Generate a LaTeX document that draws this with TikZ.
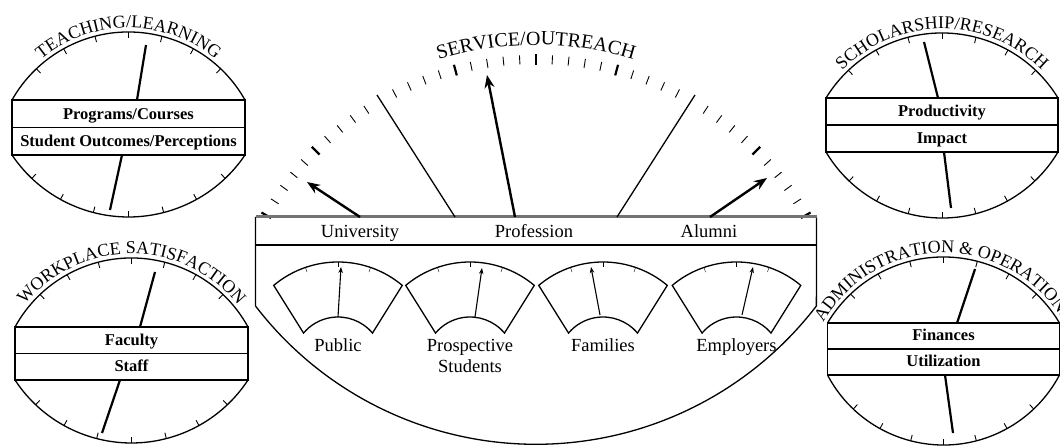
\documentclass[tikz,border=0pt]{standalone}
\usepackage{fontspec}
\setmainfont{Liberation Serif}
\usetikzlibrary{arrows.meta,decorations.text}

\newcommand{\BigCaps}{\fontsize{20}{20}\selectfont}
\newcommand{\DialCaps}{\fontsize{18}{18}\selectfont}
\newcommand{\RowFont}{\fontsize{16.5}{17}\selectfont\bfseries}
\newcommand{\TagFont}{\fontsize{18.5}{19}\selectfont}

% lens dial: #1 name, #2 centre x, #3 band top, #4 band bottom,
% #5 half width, #6 top of upper arc, #7 bottom of lower arc, #8 title
\newcommand{\Dial}[8]{
    \pgfmathsetmacro{\dTs}{#6-#3}
    \pgfmathsetmacro{\dTr}{(#5/\dTs*#5+\dTs)/2}
    \pgfmathsetmacro{\dTa}{asin(#5/\dTr)}
    \pgfmathsetmacro{\dTc}{#6-\dTr}
    \pgfmathsetmacro{\dTi}{\dTr-6}
    \pgfmathsetmacro{\dTt}{\dTr+4}
    \pgfmathsetmacro{\dBs}{#4-#7}
    \pgfmathsetmacro{\dBr}{(#5/\dBs*#5+\dBs)/2}
    \pgfmathsetmacro{\dBa}{asin(#5/\dBr)}
    \pgfmathsetmacro{\dBc}{#7+\dBr}
    \pgfmathsetmacro{\dBi}{\dBr-6}
    \pgfmathsetmacro{\dMid}{(#3+#4)/2}
    \draw[dialline] (#2+#5,#3) arc[start angle=90-\dTa, end angle=90+\dTa, radius=\dTr];
    \draw[dialline] (#2-#5,#4) arc[start angle=270-\dBa, end angle=270+\dBa, radius=\dBr];
    \foreach \k in {-3,...,3} {
        \draw[dialtick, shift={(#2,\dTc)}] (90+14.5*\k:\dTr) -- (90+14.5*\k:\dTi);
        \draw[dialtick, shift={(#2,\dBc)}] (270+14.5*\k:\dBr) -- (270+14.5*\k:\dBi);
    }
    \draw[dialline, fill=white] (#2-#5,#4) rectangle (#2+#5,#3);
    \draw[dialline] (#2-#5,\dMid) -- (#2+#5,\dMid);
    \coordinate (#1-a) at (#2,\dMid+8);
    \coordinate (#1-b) at (#2,#4+8);
    \path[shift={(#2,\dTc)}, decorate,
        decoration={text along path, text align=center, text={|\DialCaps|#8}}]
        (165:\dTt) arc[start angle=165, end angle=15, radius=\dTt];
}

% small sector meter centred on x = #1
\newcommand{\Meter}[1]{
    \draw[dialline, shift={(#1,84)}] (130:100) arc[start angle=130, end angle=50, radius=100]
        -- (40:45) arc[start angle=40, end angle=140, radius=45] -- cycle;
    \foreach \a in {71,90,109}
        \draw[thin, shift={(#1,84)}] (\a:100) -- (\a:95);
}

\begin{document}
\begin{tikzpicture}[x=1pt, y=1pt,
    dialline/.style={line width=1.3pt},
    dialtick/.style={line width=0.9pt},
    needle/.style={line width=2.2pt},
    bigarrow/.style={line width=2.4pt, -{Stealth[length=13pt, width=10pt]}},
    smallneedle/.style={line width=1.1pt, -{Stealth[length=6pt, width=4.5pt]}},
    row/.style={anchor=base, inner sep=0pt, font=\RowFont},
    tag/.style={anchor=base, inner sep=0pt, font=\TagFont, align=center}]

    \useasboundingbox (0,0) rectangle (1060,446);

    % four corner dials
    \Dial{tl}{128.5}{346}{291}{116.5}{414}{229}{TEACHING/LEARNING}
    \Dial{bl}{131.5}{119}{66}{116.5}{188}{3}{WORKPLACE SATISFACTION}
    \Dial{tr}{942}{348}{294}{116}{413}{228}{SCHOLARSHIP/RESEARCH}
    \Dial{br}{943.5}{123}{71}{116}{189}{1}{ADMINISTRATION {\&} OPERATIONS}

    \node[row] (tl1) at (tl-a) {Programs/Courses};
    \node[row] (tl2) at (tl-b) {Student Outcomes/Perceptions};
    \node[row] (bl1) at (bl-a) {Faculty};
    \node[row] (bl2) at (bl-b) {Staff};
    \node[row] (tr1) at (tr-a) {Productivity};
    \node[row] (tr2) at (tr-b) {Impact};
    \node[row] (br1) at (br-a) {Finances};
    \node[row] (br2) at (br-b) {Utilization};

    \draw[needle] (137,346) -- (146,401);
    \draw[needle] (122,291) -- (110,236);
    \draw[needle] (140,119) -- (155,174);
    \draw[needle] (120,66) -- (102,13);
    \draw[needle] (938,348) -- (924,404);
    \draw[needle] (944,294) -- (951,238);
    \draw[needle] (957,123) -- (975,177);
    \draw[needle] (945,71) -- (953,13);

    % centre dial: scale, band and bowl
    \foreach \a in {33,36,...,57,63,66,...,117,123,126,...,147}
        \draw[line width=0.9pt, shift={(536,75)}] (\a:307) -- (\a:316);
    \foreach \a in {30,45,75,90,105,135,150}
        \draw[line width=2.2pt, shift={(536,75)}] (\a:306) -- (\a:317);
    \path[shift={(536,75)}, decorate,
        decoration={text along path, text align=center, text={|\BigCaps|SERVICE/OUTREACH}}]
        (115:326) arc[start angle=115, end angle=65, radius=326];

    \draw[dialline] (255.5,229) -- (255.5,140)
        arc[start angle=217.5, end angle=322.5, radius=353.5] -- (816.5,229);
    \draw[line width=3pt, black!55] (255.5,229) -- (816.5,229);
    \draw[dialline] (255.5,201) -- (816.5,201);

    \draw[dialline] (455,229) -- (377,351);
    \draw[dialline] (617,229) -- (695,351);
    \draw[bigarrow] (360,229) -- (307,264);
    \draw[bigarrow] (515,229) -- (487,371);
    \draw[bigarrow] (710,229) -- (767,268);

    \node[tag] (univ) at (360,208) {University};
    \node[tag] (prof) at (534,208) {Profession};
    \node[tag] (alum) at (709,208) {Alumni};

    % stakeholder meters
    \Meter{338}
    \Meter{470}
    \Meter{603}
    \Meter{736.5}
    \draw[smallneedle] (338,129) -- (341,179);
    \draw[smallneedle] (475,129) -- (482,178);
    \draw[smallneedle] (600,131) -- (591,179);
    \draw[smallneedle] (742,131) -- (753,179);

    \node[tag] (pub) at (338,94) {Public};
    \node[tag] (pros) at (470,94) {Prospective};
    \node[tag] (stud) at (470,73) {Students};
    \node[tag] (fam) at (603,94) {Families};
    \node[tag] (emp) at (736.5,94) {Employers};

\end{tikzpicture}
\end{document}
